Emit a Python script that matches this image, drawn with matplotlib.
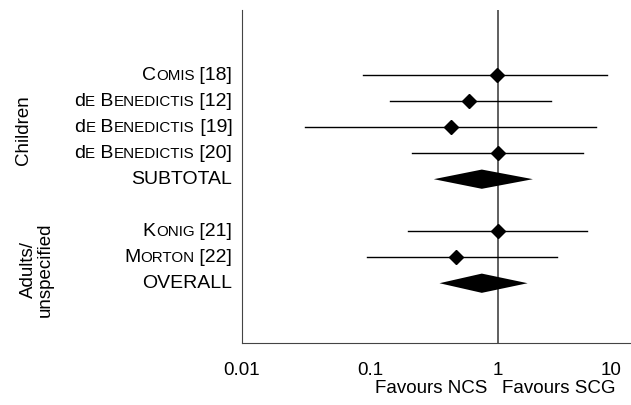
import numpy as np
import matplotlib
matplotlib.use("Agg")
import matplotlib.pyplot as plt
from matplotlib.patches import Polygon
from matplotlib.offsetbox import TextArea, HPacker, AnnotationBbox
from matplotlib.transforms import ScaledTranslation

plt.rcParams['font.family'] = ['Liberation Sans', 'DejaVu Sans']
base = 13.5

# study labels, {..} = small caps part
labels = ["C{OMIS} [18]", "d{E} B{ENEDICTIS} [12]", "d{E} B{ENEDICTIS} [19]",
          "d{E} B{ENEDICTIS} [20]", "SUBTOTAL", "K{ONIG} [21]", "M{ORTON} [22]", "OVERALL"]
rows = [0, 1, 2, 3, 4, 6, 7, 8]
est = [0.99, 0.60, 0.43, 1.0, 0.75, 1.0, 0.47, 0.75]
lo = [0.088, 0.143, 0.031, 0.213, 0.316, 0.20, 0.095, 0.35]
hi = [7.1, 2.6, 5.9, 4.6, 1.88, 5.0, 2.9, 1.71]
is_pooled = [False, False, False, False, True, False, False, True]

fig = plt.figure(figsize=(6.31, 4.05), dpi=100)
ax = fig.add_axes([0.3835, 0.153, 0.6165, 0.822])
ax.set_xscale('log')
ax.set_xlim(0.01, 11)
ax.set_ylim(10.3, -2.5)

for r, e, l, h, p in zip(rows, est, lo, hi, is_pooled):
    if p:
        hw = 0.37
        ax.add_patch(Polygon([[l, r], [e, r - hw], [h, r], [e, r + hw]],
                             closed=True, color='black', lw=0))
    else:
        ax.plot([l, h], [r, r], color='black', lw=1)
        ax.plot(e, r, marker='D', color='black', markersize=7)

ax.axvline(1, color='#444444', lw=1.2, zorder=0)

ax.spines['top'].set_visible(False)
ax.spines['right'].set_visible(False)
ax.spines['left'].set_color('#444444')
ax.spines['bottom'].set_color('#444444')
ax.set_yticks([])
ax.set_xticks([0.01, 0.1, 1, 10])
ax.set_xticklabels(['0.01', '0.1', '1', '10'])
ax.xaxis.set_minor_locator(matplotlib.ticker.NullLocator())
ax.tick_params(axis='x', length=0, pad=14, labelsize=base)
last = ax.get_xticklabels()[-1]
last.set_horizontalalignment('right')
last.set_transform(last.get_transform() + ScaledTranslation(-4 / 100, 0, fig.dpi_scale_trans))


def pieces(s):
    out = []
    small = False
    buf = ''
    for ch in s:
        if ch == '{' or ch == '}':
            if buf:
                out.append((buf, small))
            buf = ''
            small = ch == '{'
        else:
            buf += ch
    if buf:
        out.append((buf, small))
    return out


lab_size = 14
for lab, r in zip(labels, rows):
    areas = [TextArea(t, textprops=dict(fontsize=lab_size * 0.78 if sm else lab_size))
             for t, sm in pieces(lab)]
    box = HPacker(children=areas, align='baseline', pad=0, sep=0)
    ab = AnnotationBbox(box, (-0.025, r), xycoords=('axes fraction', 'data'),
                        box_alignment=(1, 0.5), frameon=False, pad=0)
    ax.add_artist(ab)

fig.text(0.038, 0.679, 'Children', rotation=90, ha='center', va='center', fontsize=base)
fig.text(0.058, 0.335, 'Adults/\nunspecified', rotation=90, ha='center', va='center',
         fontsize=base, linespacing=0.95)

fig.text(0.683, 0.04, 'Favours NCS', ha='center', va='center', fontsize=base)
fig.text(0.886, 0.04, 'Favours SCG', ha='center', va='center', fontsize=base)

fig.savefig('out.png', dpi=100)
